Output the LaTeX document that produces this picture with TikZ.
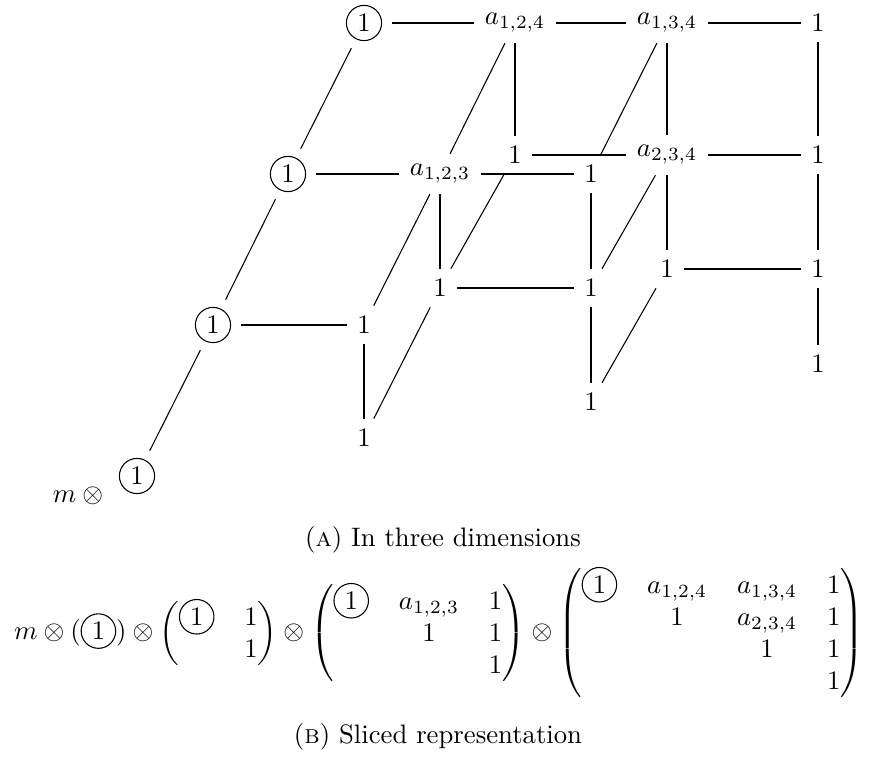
\documentclass[tikz,border=0pt]{standalone}
\usepackage{amsmath}
\usepackage{tikz}
\usetikzlibrary{positioning}

\newsavebox{\pivotbox}
\newcommand{\pivotone}{\usebox{\pivotbox}}
\setlength{\arraycolsep}{5.6pt}

\begin{document}
\sbox{\pivotbox}{\begin{pgfpicture}\pgfsetbaseline{0pt}\pgfset{inner sep=1.7pt}%
  \pgfnode{circle}{base}{$1$}{p}{\pgfusepath{stroke}}\end{pgfpicture}}%
\begin{tikzpicture}[x=1.316cm, y=-1.316cm,
    entry/.style={inner sep=3.8pt},
    pivot/.style={draw, circle, inner sep=1.8pt, outer sep=4pt},
    caption/.style={inner sep=0pt}
]
\useasboundingbox (0,0) rectangle (8.69,7.58);

% Slice 1
\node[entry] (tensor) at (0.78, 4.96) {$m \mskip\medmuskip \otimes$};
\node[pivot] (p1) at (1.37, 4.76) {$1$};

% Slice 2
\node[pivot] (p2) at (2.13, 3.25) {$1$};
\node[entry] (b12) at (3.64, 3.25) {$1$};
\node[entry] (b22) at (3.64, 4.38) {$1$};

% Slice 3
\node[pivot] (p3) at (2.88, 1.74) {$1$};
\node[entry] (c12) at (4.40, 1.74) {$a_{1,2,3}$};
\node[entry] (c13) at (5.91, 1.74) {$1$};
\node[entry] (c22) at (4.40, 2.88) {$1$};
\node[entry] (c23) at (5.91, 2.88) {$1$};
\node[entry] (c33) at (5.91, 4.02) {$1$};

% Slice 4
\node[pivot] (p4) at (3.64, 0.23) {$1$};
\node[entry] (d12) at (5.15, 0.23) {$a_{1,2,4}$};
\node[entry] (d13) at (6.67, 0.23) {$a_{1,3,4}$};
\node[entry] (d14) at (8.18, 0.23) {$1$};
\node[entry] (d22) at (5.15, 1.55) {$1$};
\node[entry] (d23) at (6.67, 1.55) {$a_{2,3,4}$};
\node[entry] (d24) at (8.18, 1.55) {$1$};
\node[entry] (d33) at (6.67, 2.69) {$1$};
\node[entry] (d34) at (8.18, 2.69) {$1$};
\node[entry] (d44) at (8.18, 3.64) {$1$};

% Rows
\draw (p2) -- (b12);
\draw (p3) -- (c12) -- (c13);
\draw (c22) -- (c23);
\draw (p4) -- (d12) -- (d13) -- (d14);
\draw (d22) -- (d23) -- (d24);
\draw (d33) -- (d34);

% Columns
\draw (b12) -- (b22);
\draw (c12) -- (c22);
\draw (c13) -- (c23) -- (c33);
\draw (d12) -- (d22);
\draw (d13) -- (d23) -- (d33);
\draw (d14) -- (d24) -- (d34) -- (d44);

% Between slices
\draw (p1) -- (p2) -- (p3) -- (p4);
\draw (b12) -- (c12) -- (d12);
\draw (b22) -- (c22) -- (d22);
\draw (c13) -- (d13);
\draw (c23) -- (d23);
\draw (c33) -- (d33);

\node[caption] (capA) at (4.43, 5.40) {(\textsc{a}) In three dimensions};

% Sliced form
\node (sliced) at (4.39, 6.33) {$m \otimes (\pivotone) \otimes
    \begin{pmatrix} \pivotone & 1 \\ & 1 \end{pmatrix} \otimes
    \begin{pmatrix} \pivotone & a_{1,2,3} & 1 \\ & 1 & 1 \\ & & 1 \end{pmatrix} \otimes
    \begin{pmatrix} \pivotone & a_{1,2,4} & a_{1,3,4} & 1 \\ & 1 & a_{2,3,4} & 1 \\ & & 1 & 1 \\ & & & 1 \end{pmatrix}$};

\node[caption] (capB) at (4.38, 7.37) {(\textsc{b}) Sliced representation};

\end{tikzpicture}
\end{document}
